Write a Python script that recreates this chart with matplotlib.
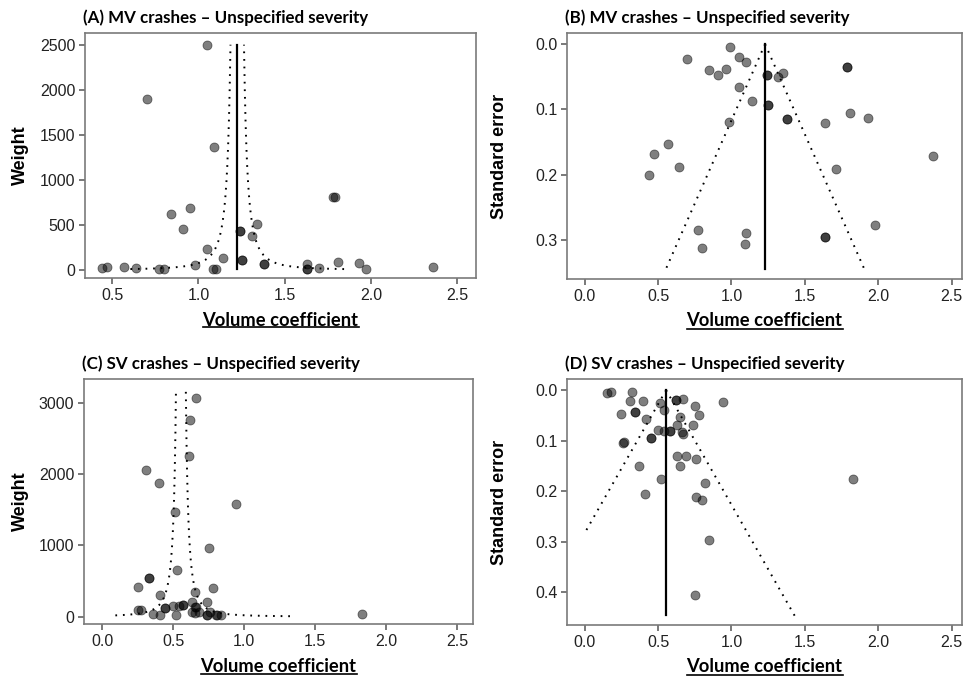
import numpy as np
import matplotlib
matplotlib.use('Agg')
import matplotlib.pyplot as plt
from matplotlib.lines import Line2D

# Funnel plots: volume coefficient vs weight / standard error
plt.rcParams['font.family'] = 'Liberation Sans'

# (A) MV crashes, weight
a_coef = [0.44, 0.47, 0.57, 0.64, 0.70, 0.77, 0.80, 0.84, 0.91, 0.95, 0.98, 1.05, 1.05,
          1.085, 1.10, 1.09, 1.14, 1.24, 1.24, 1.25, 1.25, 1.31, 1.34, 1.38, 1.38,
          1.63, 1.63, 1.63, 1.70, 1.783, 1.795, 1.81, 1.93, 1.97, 2.36]
a_weight = [19, 30, 37, 22, 1896, 7, 7, 622, 452, 689, 59, 2500, 230,
            7, 7, 1370, 130, 430, 430, 111, 111, 378, 515, 70, 70,
            63, 7, 7, 26, 815, 815, 89, 74, 11, 30]

# (B) MV crashes, standard error
b_coef = [0.99, 0.70, 1.05, 1.10, 0.85, 0.96, 0.91, 1.24, 1.24, 1.32, 1.35, 1.79, 1.79,
          1.05, 1.14, 1.25, 1.25, 1.38, 1.38, 0.98, 1.64, 1.81, 1.93, 0.57, 0.47,
          0.64, 0.44, 1.71, 2.37, 0.77, 0.80, 1.10, 1.09, 1.64, 1.64, 1.98]
b_se = [0.005, 0.023, 0.020, 0.027, 0.040, 0.038, 0.047, 0.048, 0.048, 0.051, 0.045, 0.035, 0.035,
        0.065, 0.087, 0.093, 0.093, 0.115, 0.115, 0.119, 0.121, 0.106, 0.114, 0.153, 0.168,
        0.188, 0.200, 0.191, 0.171, 0.285, 0.313, 0.290, 0.307, 0.295, 0.295, 0.278]

# (C) SV crashes, weight
c_coef = [0.66, 0.62, 0.61, 0.31, 0.40, 0.94, 0.51, 0.75, 0.53, 0.33, 0.33, 0.25, 0.78,
          0.41, 0.65, 0.25, 0.27, 0.36, 0.41, 0.44, 0.44, 0.50, 0.54, 0.57, 0.57,
          0.52, 0.63, 0.63, 0.65, 0.66, 0.65, 0.68, 0.74, 0.74, 0.74, 0.76, 0.80,
          0.81, 0.84, 1.83]
c_weight = [3072, 2757, 2256, 2059, 1880, 1589, 1468, 971, 657, 540, 540, 413, 404,
            305, 343, 94, 100, 38, 24, 122, 122, 155, 146, 160, 160,
            28, 203, 71, 141, 141, 56, 61, 211, 19, 19, 62, 28,
            28, 19, 34]

# (D) SV crashes, standard error
d_coef = [0.15, 0.18, 0.32, 0.31, 0.40, 0.51, 0.62, 0.62, 0.67, 0.75, 0.94, 0.25, 0.34,
          0.34, 0.54, 0.78, 0.42, 0.65, 0.63, 0.74, 0.50, 0.54, 0.58, 0.58, 0.66,
          0.67, 0.26, 0.27, 0.45, 0.45, 0.63, 0.69, 0.76, 0.65, 0.37, 0.52, 0.82,
          0.41, 0.76, 0.80, 0.85, 0.75, 1.83]
d_se = [0.005, 0.003, 0.003, 0.021, 0.022, 0.025, 0.020, 0.020, 0.018, 0.032, 0.024, 0.048, 0.043,
        0.043, 0.040, 0.049, 0.057, 0.054, 0.070, 0.069, 0.079, 0.081, 0.080, 0.080, 0.082,
        0.086, 0.104, 0.102, 0.094, 0.094, 0.131, 0.130, 0.137, 0.150, 0.150, 0.176, 0.184,
        0.206, 0.211, 0.217, 0.296, 0.405, 0.176]

# pooled estimates
a_mean = 1.225
b_mean = 1.229
c_mean = 0.554
d_mean = 0.555

titles = ['(A) MV crashes \u2013 Unspecified severity',
          '(B) MV crashes \u2013 Unspecified severity',
          '(C) SV crashes \u2013 Unspecified severity',
          '(D) SV crashes \u2013 Unspecified severity']

W, H = 967, 678
fig = plt.figure(figsize=(W / 100, H / 100), dpi=100)

def make_ax(l, t, r, b):
    return fig.add_axes([l / W, 1 - b / H, (r - l) / W, (b - t) / H])

axA = make_ax(85, 33, 476, 278)
axB = make_ax(567, 33, 962, 279)
axC = make_ax(84, 379, 473, 624)
axD = make_ax(567, 379, 962, 625)

pt = dict(s=42, c='black', alpha=0.5, edgecolors='black', linewidths=0.6, zorder=3)
dot = dict(color='black', lw=1.4, ls=(0, (0.9, 3.0)))

# A
axA.scatter(a_coef, a_weight, **pt)
wA = np.geomspace(10, 2500, 300)
axA.plot(a_mean - 1.96 / np.sqrt(wA), wA, **dot)
axA.plot(a_mean + 1.96 / np.sqrt(wA), wA, **dot)
axA.plot([a_mean, a_mean], [7, 2500], color='black', lw=1.6)
axA.set_xlim(0.342, 2.61)
axA.set_ylim(-89, 2630)
axA.set_xticks([0.5, 1.0, 1.5, 2.0, 2.5])
axA.set_yticks([0, 500, 1000, 1500, 2000, 2500])

# B
axB.scatter(b_coef, b_se, **pt)
seB = np.array([0, 0.345])
axB.plot(b_mean - 1.96 * seB, seB, **dot)
axB.plot(b_mean + 1.96 * seB, seB, **dot)
axB.plot([b_mean, b_mean], [0, 0.345], color='black', lw=1.6)
axB.set_xlim(-0.12, 2.57)
axB.set_ylim(0.360, -0.017)
axB.set_yticks([0.0, 0.1, 0.2, 0.3])

# C
axC.scatter(c_coef, c_weight, **pt)
wCl = np.geomspace(18, 3200, 300)
wCr = np.geomspace(6.5, 3200, 300)
axC.plot(c_mean - 1.96 / np.sqrt(wCl), wCl, **dot)
axC.plot(c_mean + 1.96 / np.sqrt(wCr), wCr, **dot)
axC.set_xlim(-0.129, 2.613)
axC.set_ylim(-103, 3339)
axC.set_yticks([0, 1000, 2000, 3000])

# D
axD.scatter(d_coef, d_se, **pt)
axD.plot([d_mean, 0], [0, d_mean / 1.96], **dot)
axD.plot([d_mean, d_mean + 1.96 * 0.448], [0, 0.448], **dot)
axD.plot([d_mean, d_mean], [0, 0.446], color='black', lw=1.6)
axD.set_xlim(-0.12, 2.57)
axD.set_ylim(0.465, -0.022)
axD.set_yticks([0.0, 0.1, 0.2, 0.3, 0.4])

for ax in [axB, axC, axD]:
    ax.set_xticks([0.0, 0.5, 1.0, 1.5, 2.0, 2.5])
for ax in [axA, axB, axC, axD]:
    ax.xaxis.set_major_formatter(matplotlib.ticker.FormatStrFormatter('%.1f'))
for ax in [axB, axD]:
    ax.yaxis.set_major_formatter(matplotlib.ticker.FormatStrFormatter('%.1f'))

for ax in [axA, axB, axC, axD]:
    for s in ax.spines.values():
        s.set_color('#7a7a7a')
        s.set_linewidth(1.2)
    ax.tick_params(direction='out', length=4, width=1.1, color='#555555',
                   labelsize=11.5, labelcolor='#222222', pad=3)

# titles
for ax, t in zip([axA, axB, axC, axD], titles):
    pos = ax.get_position()
    fig.text(pos.x0 - 2 / W, pos.y1 + 15 / H, t, fontsize=12.2, fontweight='bold',
             family='Lato', va='center', ha='left')

# y labels
ylabs = ['Weight', 'Standard error', 'Weight', 'Standard error']
for ax, t in zip([axA, axB, axC, axD], ylabs):
    pos = ax.get_position()
    x = 20 / W if pos.x0 < 0.5 else 500 / W
    fig.text(x, (pos.y0 + pos.y1) / 2, t, rotation=90, fontsize=13, fontweight='bold',
             ha='center', va='center')

# x labels, underlined
xl = []
for ax in [axA, axB, axC, axD]:
    pos = ax.get_position()
    xl.append(fig.text((pos.x0 + pos.x1) / 2, pos.y0 - 42 / H, 'Volume coefficient',
                       fontsize=13.2, fontweight='bold', family='Lato',
                       ha='center', va='center'))

fig.canvas.draw()
r = fig.canvas.get_renderer()
for t in xl:
    bb = t.get_window_extent(r)
    y = (bb.y0 + 1) / H
    fig.add_artist(Line2D([bb.x0 / W, bb.x1 / W], [y, y], color='black', lw=1.2,
                          transform=fig.transFigure))

fig.savefig('out.png', dpi=100)
